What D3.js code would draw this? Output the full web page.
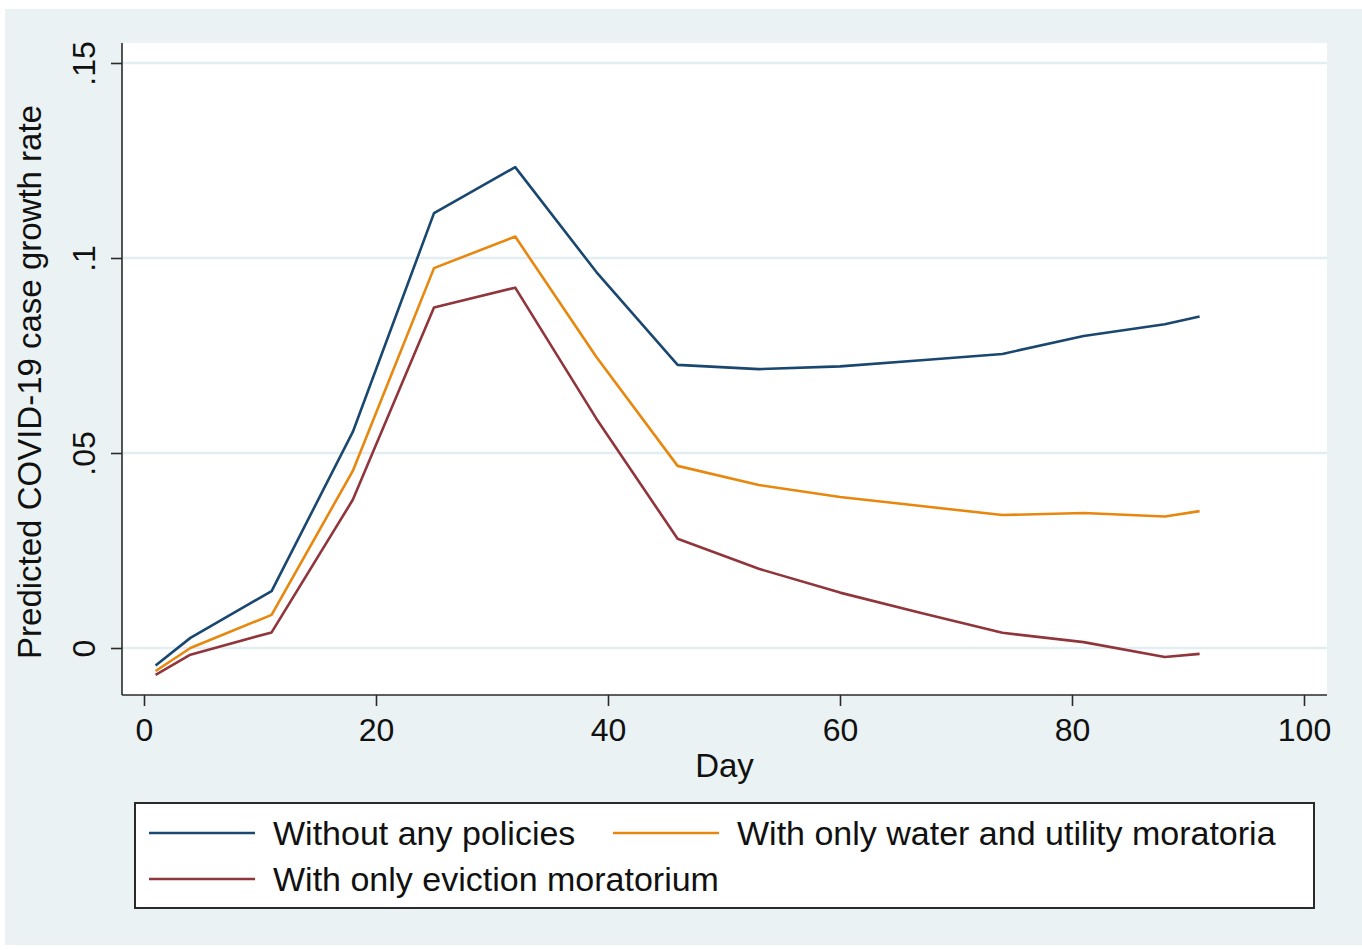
<!DOCTYPE html>
<html>
<head>
<meta charset="utf-8">
<script src="https://cdn.jsdelivr.net/npm/d3@7"></script>
<style>
  html, body { margin: 0; padding: 0; background: #ffffff; }
  svg { display: block; }
  text { font-family: "Liberation Sans", Arial, Helvetica, sans-serif; fill: #111; }
</style>
</head>
<body>
<div id="chart"></div>
<script>
// day of the predicted growth rate
const days = [1, 4, 11, 18, 25, 32, 39, 46, 53, 60, 67, 74, 81, 88, 91];

const noPolicy = [-0.0045, 0.0026, 0.0146, 0.0554, 0.1115, 0.1233, 0.0964, 0.0726, 0.0715, 0.0722, 0.0738, 0.0754, 0.0800, 0.0830, 0.0850];
const waterUtility = [-0.0059, 0.0000, 0.0085, 0.0454, 0.0974, 0.1055, 0.0746, 0.0467, 0.0418, 0.0387, 0.0364, 0.0341, 0.0346, 0.0337, 0.0351];
const eviction = [-0.0069, -0.0017, 0.0040, 0.0380, 0.0873, 0.0924, 0.0588, 0.0280, 0.0203, 0.0142, 0.0090, 0.0039, 0.0015, -0.0023, -0.0015];

const seriesNames = ["Without any policies", "With only water and utility moratoria", "With only eviction moratorium"];
const seriesColors = ["#1a476f", "#e8870e", "#90353b"];

const xTicks = [0, 20, 40, 60, 80, 100];
const yTicks = [0, 0.05, 0.1, 0.15];
const yTickLabels = ["0", ".05", ".1", ".15"];

const W = 1362, H = 950;
const plot = { left: 122, right: 1327, top: 43, bottom: 695 };

const svg = d3.select("#chart").append("svg")
    .attr("width", W).attr("height", H);

// graph region
svg.append("rect")
    .attr("x", 5).attr("y", 9)
    .attr("width", W - 5).attr("height", 936)
    .attr("fill", "#eaf2f3");

// plot region
svg.append("rect")
    .attr("x", plot.left).attr("y", plot.top)
    .attr("width", plot.right - plot.left).attr("height", plot.bottom - plot.top)
    .attr("fill", "#ffffff");

const x = d3.scaleLinear().domain([0, 100]).range([144, 1304]);
const y = d3.scaleLinear().domain([0, 0.15]).range([648, 63]);

// gridlines
svg.append("g")
    .selectAll("line")
    .data(yTicks)
    .join("line")
    .attr("x1", plot.left).attr("x2", plot.right)
    .attr("y1", d => y(d)).attr("y2", d => y(d))
    .attr("stroke", "#e4eef0")
    .attr("stroke-width", 2.5);

// lines
const lineGen = d3.line()
    .x((d, i) => x(days[i]))
    .y(d => y(d));

[noPolicy, waterUtility, eviction].forEach((vals, k) => {
    svg.append("path")
        .datum(vals)
        .attr("d", lineGen)
        .attr("fill", "none")
        .attr("stroke", seriesColors[k])
        .attr("stroke-width", 2.6)
        .attr("stroke-linejoin", "round");
});

// x axis
const xAxis = svg.append("g")
    .attr("transform", `translate(0,${plot.bottom})`)
    .call(d3.axisBottom(x).tickValues(xTicks).tickSize(11).tickSizeOuter(0).tickPadding(12));
xAxis.select(".domain")
    .attr("d", `M${plot.left},0H${plot.right}`)
    .attr("stroke", "#2a2a2a").attr("stroke-width", 1.6);
xAxis.selectAll(".tick line").attr("stroke", "#2a2a2a").attr("stroke-width", 1.6);
xAxis.selectAll(".tick text")
    .attr("dy", null).attr("y", 46)
    .style("font-size", "32px")
    .attr("fill", "#111");

// y axis
const yAxis = svg.append("g")
    .attr("transform", `translate(${plot.left},0)`)
    .call(d3.axisLeft(y).tickValues(yTicks).tickSize(11).tickSizeOuter(0)
        .tickFormat((d, i) => yTickLabels[i]));
yAxis.select(".domain")
    .attr("d", `M0,${plot.top}V${plot.bottom}`)
    .attr("stroke", "#2a2a2a").attr("stroke-width", 1.6);
yAxis.selectAll(".tick line").attr("stroke", "#2a2a2a").attr("stroke-width", 1.6);
yAxis.selectAll(".tick text")
    .attr("x", null).attr("dy", null)
    .attr("transform", "translate(-27,0) rotate(-90)")
    .attr("text-anchor", "middle")
    .style("font-size", "32px")
    .attr("fill", "#111");

// axis titles
svg.append("text")
    .attr("x", (plot.left + plot.right) / 2).attr("y", 777)
    .attr("text-anchor", "middle")
    .style("font-size", "33px")
    .text("Day");

svg.append("text")
    .attr("transform", "translate(41,382) rotate(-90)")
    .attr("text-anchor", "middle")
    .style("font-size", "33px")
    .text("Predicted COVID-19 case growth rate");

// legend
const legend = svg.append("g");
legend.append("rect")
    .attr("x", 135).attr("y", 803)
    .attr("width", 1179).attr("height", 105)
    .attr("fill", "#ffffff")
    .attr("stroke", "#2a2a2a").attr("stroke-width", 2);

const legendPos = [
    { kx: 149, ky: 833, tx: 273, ty: 845 },
    { kx: 613, ky: 833, tx: 737, ty: 845 },
    { kx: 149, ky: 879, tx: 273, ty: 891 }
];

seriesNames.forEach((name, k) => {
    const p = legendPos[k];
    legend.append("line")
        .attr("x1", p.kx).attr("x2", p.kx + 106)
        .attr("y1", p.ky).attr("y2", p.ky)
        .attr("stroke", seriesColors[k])
        .attr("stroke-width", 2.6);
    legend.append("text")
        .attr("x", p.tx).attr("y", p.ty)
        .style("font-size", "34px")
        .text(name);
});
</script>
</body>
</html>
